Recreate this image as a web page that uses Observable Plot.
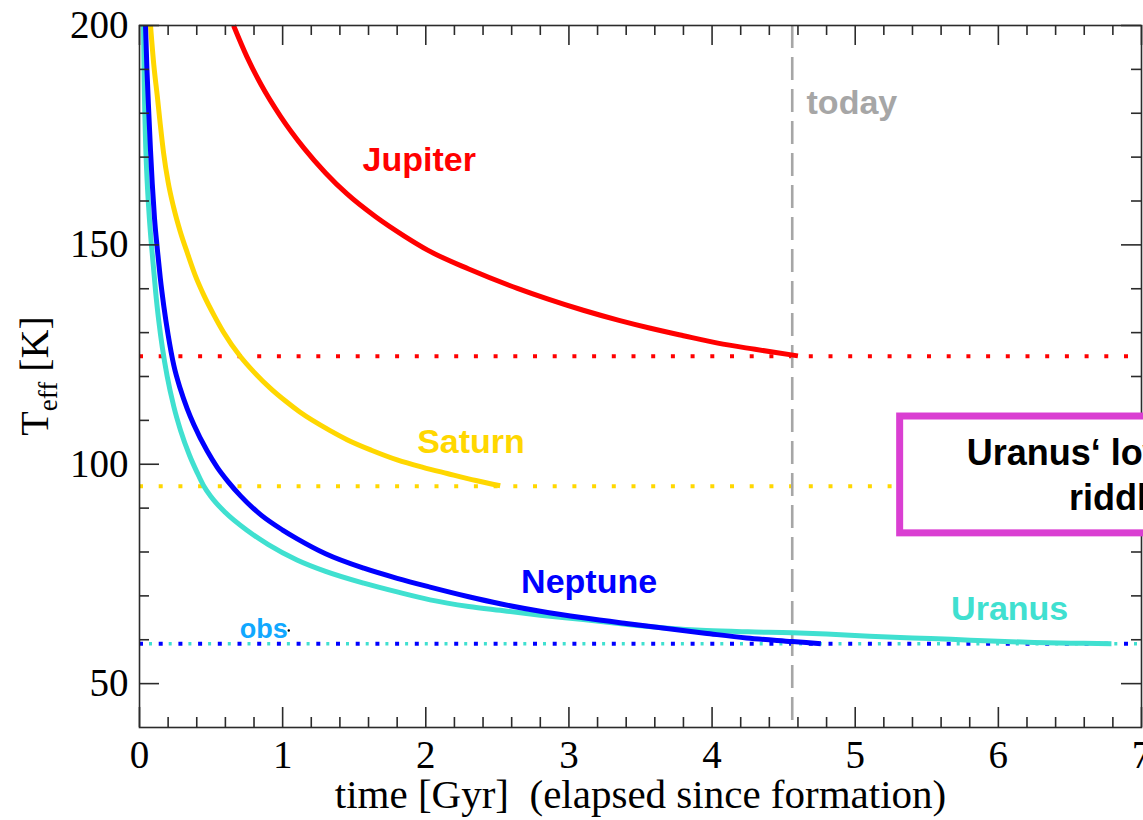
<!DOCTYPE html>
<html>
<head>
<meta charset="utf-8">
<script src="https://cdn.jsdelivr.net/npm/d3@7"></script>
<script src="https://cdn.jsdelivr.net/npm/@observablehq/plot@0.6"></script>
<style>
  html, body { margin: 0; padding: 0; background: white; overflow: hidden; }
</style>
</head>
<body>
<div id="chart"></div>
<script>
// ---- data (time in Gyr, Teff in K) ----
const jupiter = [[0.657,200],[0.75,192.9],[0.85,186.5],[0.985,179.3],[1.15,172.0],[1.3,166.4],[1.45,161.6],[1.65,156.4],[1.85,152.0],[2.013,148.8],[2.3,144.5],[2.64,140.1],[2.85,137.7],[3.1,135.1],[3.35,132.8],[3.57,131.0],[3.8,129.3],[4.04,127.6],[4.3,126.2],[4.6,124.7]];
const saturn = [[0.077,200],[0.1,191],[0.124,184],[0.145,177.5],[0.168,171],[0.2,164.3],[0.238,158.6],[0.285,153],[0.335,148.1],[0.39,143],[0.45,138.5],[0.52,134],[0.587,130.1],[0.706,124.5],[0.8,121],[0.915,117.3],[1.02,114.4],[1.12,111.9],[1.335,107.6],[1.45,105.6],[1.62,103.2],[1.80,101.0],[1.98,99.3],[2.15,97.9],[2.35,96.3],[2.52,95.1]];
const uranus = [[0.028,200],[0.033,187],[0.042,174],[0.05,167],[0.065,158],[0.077,152.5],[0.089,148],[0.1,144],[0.113,139.2],[0.135,132.6],[0.16,126.5],[0.193,120.1],[0.24,113.1],[0.287,107.7],[0.35,102.0],[0.403,98.1],[0.45,95.0],[0.5,92.6],[0.6,89.0],[0.753,84.9],[0.9,81.7],[1.1,78.2],[1.3,75.6],[1.567,72.9],[1.8,70.9],[2.03,69.1],[2.3,67.6],[2.52,66.7],[2.8,65.6],[3.1,64.6],[3.38,63.6],[3.67,62.7],[3.96,62.1],[4.25,61.8],[4.56,61.6],[4.8,61.3],[5.1,60.8],[5.4,60.4],[5.67,60.1],[5.95,59.7],[6.25,59.4],[6.55,59.2],[6.79,59.1]];
const neptune = [[0.042,200],[0.052,190],[0.065,180],[0.077,171.5],[0.089,164],[0.105,156],[0.124,149.2],[0.145,142.5],[0.17,136],[0.2,129.5],[0.24,122.5],[0.285,117.2],[0.333,112.7],[0.38,109],[0.473,103],[0.543,99.3],[0.62,96],[0.706,92.8],[0.85,88.4],[1.0,85.0],[1.102,83.0],[1.3,79.6],[1.567,76.3],[1.8,74],[2.03,72],[2.3,69.8],[2.52,68.2],[2.8,66.5],[3.1,65],[3.4,63.7],[3.67,62.6],[3.95,61.5],[4.24,60.4],[4.56,59.6],[4.76,59.1]];

const planets  = ["Jupiter", "Saturn", "Uranus", "Neptune"];
const colors   = ["#ff0000", "#ffd700", "#40e0d0", "#0000ff"];
const observed = [124.6, 95.0, 59.1, 59.1];   // observed Teff [K]
const todayGyr = 4.56;

const xMajor = [0, 1, 2, 3, 4, 5, 6, 7];
const yMajor = [50, 100, 150, 200];
const xMinor = d3.range(1, 35).map(i => i / 5).filter(v => Math.abs(v - Math.round(v)) > 1e-6);
const yMinor = [60, 70, 80, 90, 110, 120, 130, 140, 160, 170, 180, 190];

const labelText = ["Jupiter", "Saturn", "Neptune", "Uranus"];
const labelX    = [1.558, 1.94, 2.666, 5.67];
const labelY    = [166.8, 102.6, 70.6, 64.6];
const labelCol  = ["#ff0000", "#ffd700", "#0000ff", "#40e0d0"];

const boxLines = ["Uranus‘ low heat", "riddle"];
const boxLineX = [5.779, 6.494];
const boxLineY = [99.8, 89.6];

// ---- layout ----
const W = 1143, H = 820, mL = 139, mR = 2, mT = 25, mB = 93;
const xDom = [0, 7], yDom = [40, 200];
const gpp = (xDom[1] - xDom[0]) / (W - mL - mR);   // Gyr per px
const kpp = (yDom[1] - yDom[0]) / (H - mT - mB);   // K per px
const majLen = 20, minLen = 10;
const axisCol = "#2b2b2b";

const series = [jupiter, saturn, uranus, neptune];
const lineMarks = series.map((s, i) =>
  Plot.line(s, {x: d => d[0], y: d => d[1], curve: "monotone-x", stroke: colors[i], strokeWidth: 5, strokeLinejoin: "round", strokeLinecap: "butt"})
);

const tickMarks = [
  Plot.ruleX(xMajor, {x: d => d, y1: yDom[0], y2: yDom[0] + majLen * kpp, stroke: axisCol, strokeWidth: 1.6}),
  Plot.ruleX(xMinor, {x: d => d, y1: yDom[0], y2: yDom[0] + minLen * kpp, stroke: axisCol, strokeWidth: 1.6}),
  Plot.ruleX(xMajor, {x: d => d, y1: yDom[1] - majLen * kpp, y2: yDom[1], stroke: axisCol, strokeWidth: 1.6}),
  Plot.ruleX(xMinor, {x: d => d, y1: yDom[1] - minLen * kpp, y2: yDom[1], stroke: axisCol, strokeWidth: 1.6}),
  Plot.ruleY(yMajor, {y: d => d, x1: xDom[0], x2: xDom[0] + majLen * gpp, stroke: axisCol, strokeWidth: 1.6}),
  Plot.ruleY(yMinor, {y: d => d, x1: xDom[0], x2: xDom[0] + minLen * gpp, stroke: axisCol, strokeWidth: 1.6}),
  Plot.ruleY(yMajor, {y: d => d, x1: xDom[1] - majLen * gpp, x2: xDom[1], stroke: axisCol, strokeWidth: 1.6}),
  Plot.ruleY(yMinor, {y: d => d, x1: xDom[1] - minLen * gpp, x2: xDom[1], stroke: axisCol, strokeWidth: 1.6})
];

const sans = "'Liberation Sans', Arial, sans-serif";
const serif = "'Liberation Serif', 'Times New Roman', serif";

const chart = Plot.plot({
  width: W, height: H,
  marginLeft: mL, marginRight: mR, marginTop: mT, marginBottom: mB,
  x: {domain: xDom},
  y: {domain: yDom},
  style: {fontFamily: serif, background: "white", color: "black", overflow: "hidden"},
  marks: [
    // observed Teff (dotted)
    Plot.ruleY([observed[0]], {y: d => d, x1: 0, x2: 7, stroke: colors[0], strokeWidth: 4, strokeDasharray: "4 15.7"}),
    Plot.ruleY([observed[1]], {y: d => d, x1: 0, x2: 7, stroke: colors[1], strokeWidth: 4, strokeDasharray: "4 15.7"}),
    Plot.ruleY([observed[2]], {y: d => d, x1: 0, x2: 7, stroke: colors[2], strokeWidth: 3.5, strokeDasharray: "3 16.7", strokeDashoffset: -10}),
    Plot.ruleY([observed[3]], {y: d => d, x1: 0, x2: 7, stroke: colors[3], strokeWidth: 4, strokeDasharray: "4 15.7"}),
    // today
    Plot.ruleX([todayGyr], {x: d => d, stroke: "#a6a6a6", strokeWidth: 2.6, strokeDasharray: "23 9"}),
    ...lineMarks,
    Plot.frame({stroke: axisCol, strokeWidth: 1.6}),
    ...tickMarks,
    Plot.axisX({ticks: xMajor, tickSize: 0, tickPadding: 13, fontSize: 39, fontFamily: serif, label: null, tickFormat: d => String(d)}),
    Plot.axisY({ticks: yMajor, tickSize: 0, tickPadding: 11, fontSize: 39, fontFamily: serif, label: null, tickFormat: d => String(d)}),
    Plot.text(["time [Gyr]  (elapsed since formation)"], {frameAnchor: "bottom", dy: 80, lineAnchor: "bottom", fontSize: 41, fontFamily: serif, fill: "black"}),
    // planet labels
    Plot.text(labelText, {x: (d, i) => labelX[i], y: (d, i) => labelY[i], text: d => d, fill: (d, i) => labelCol[i], textAnchor: "start", lineAnchor: "bottom", fontSize: 34, fontWeight: "bold", fontFamily: sans}),
    Plot.text(["today"], {x: 4.66, y: 179.9, text: d => d, fill: "#a6a6a6", textAnchor: "start", lineAnchor: "bottom", fontSize: 34, fontWeight: "bold", fontFamily: sans}),
    Plot.text(["obs"], {x: 0.70, y: 60.4, text: d => d, fill: "#10a8ff", textAnchor: "start", lineAnchor: "bottom", fontSize: 27, fontWeight: "bold", fontFamily: sans}),
    Plot.dot([[1.043, 62.1]], {x: d => d[0], y: d => d[1], r: 1.2, fill: "black", stroke: null}),
    // box
    Plot.rect([{x1: 5.314, x2: 8.5, y1: 84.25, y2: 110.88}], {x1: "x1", x2: "x2", y1: "y1", y2: "y2", fill: "white", stroke: "#da3fd2", strokeWidth: 7}),
    Plot.text(boxLines, {x: (d, i) => boxLineX[i], y: (d, i) => boxLineY[i], text: d => d, fill: "black", textAnchor: "start", lineAnchor: "bottom", fontSize: 36, fontWeight: "bold", fontFamily: sans})
  ]
});

// y-axis label with subscript
const svg = d3.select(chart);
const yl = svg.append("text")
  .attr("transform", `translate(48, ${mT + (H - mT - mB) / 2}) rotate(-90)`)
  .attr("text-anchor", "middle")
  .attr("fill", "black")
  .style("font-family", serif)
  .style("font-size", "40px");
yl.append("tspan").text("T");
yl.append("tspan").attr("font-size", 27).attr("dy", 9).text("eff");
yl.append("tspan").attr("dy", -9).text(" [K]");

document.getElementById("chart").appendChild(chart);
</script>
</body>
</html>
